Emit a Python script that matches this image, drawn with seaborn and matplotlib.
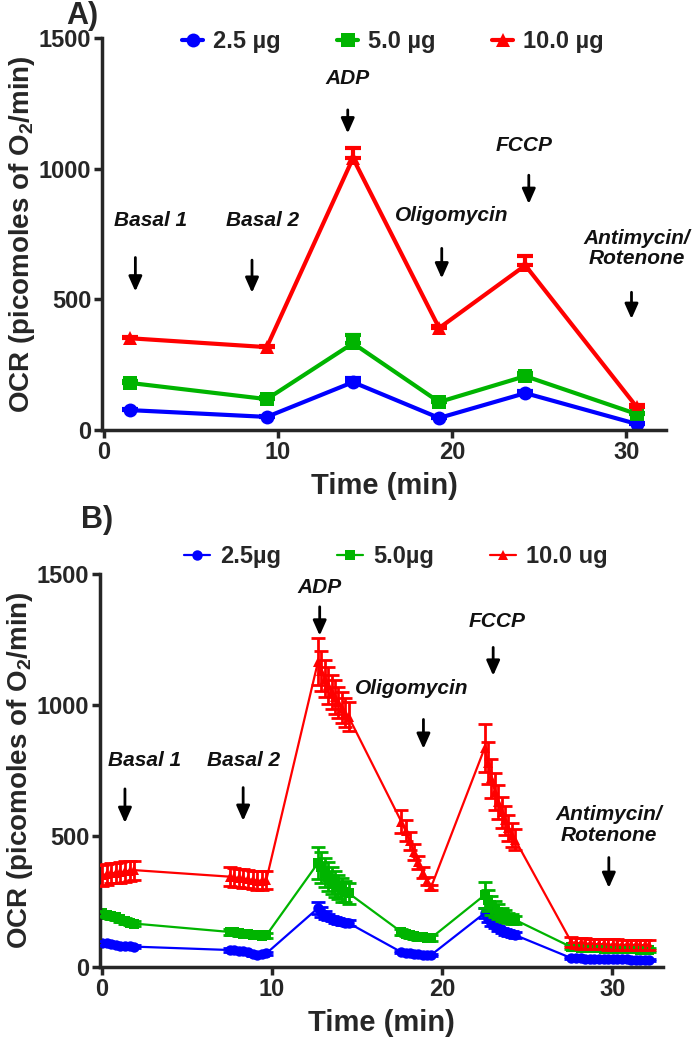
import numpy as np
import pandas as pd
import matplotlib
matplotlib.use('Agg')
import matplotlib.pyplot as plt
import seaborn as sns

# ---- panel A : one mean value per injection step ----
doses_a = ['2.5 µg', '5.0 µg', '10.0 µg']
time_a = [1.5, 9.35, 14.3, 19.25, 24.2, 30.6]
ocr_a_25 = [76, 50, 183, 46, 141, 23]
err_a_25 = [6, 5, 14, 5, 10, 3]
ocr_a_50 = [180, 118, 332, 107, 206, 61]
err_a_50 = [8, 8, 30, 8, 12, 5]
ocr_a_100 = [351, 317, 1040, 390, 630, 88]
err_a_100 = [6, 6, 40, 8, 35, 6]

# ---- panel B : every measurement ----
doses_b = ['2.5µg', '5.0µg', '10.0 ug']
time_b = [0.0, 0.27, 0.54, 0.81, 1.08, 1.35, 1.62, 1.89,
          7.5, 7.77, 8.04, 8.31, 8.58, 8.85, 9.12, 9.39, 9.66,
          12.7, 12.9, 13.1, 13.3, 13.5, 13.7, 13.9, 14.1, 14.3, 14.5,
          17.6, 17.85, 18.1, 18.35, 18.6, 18.85, 19.1, 19.35,
          22.5, 22.7, 22.9, 23.1, 23.3, 23.5, 23.7, 23.9, 24.1, 24.3,
          27.6, 27.87, 28.14, 28.41, 28.68, 28.95, 29.22, 29.49, 29.76,
          30.03, 30.3, 30.57, 30.84, 31.11, 31.38, 31.65, 31.92, 32.19]
ocr_b_25 = [92, 90, 88, 85, 82, 80, 79, 78,
            65, 64, 62, 60, 56, 50, 47, 48, 52,
            225, 210, 200, 192, 185, 180, 176, 172, 170, 168,
            57, 54, 52, 50, 48, 47, 46, 46,
            206, 185, 170, 158, 148, 140, 134, 130, 126, 122,
            34, 33, 33, 32, 32, 31, 31, 30, 30, 30, 29, 29, 29, 28, 28, 28, 27, 27]
err_b_25 = [8, 8, 8, 8, 7, 7, 7, 7,
            6, 6, 6, 6, 6, 6, 6, 6, 6,
            22, 18, 15, 12, 10, 10, 10, 10, 10, 10,
            5, 5, 5, 5, 5, 5, 5, 5,
            18, 14, 12, 10, 10, 10, 10, 10, 10, 10,
            4, 4, 4, 4, 4, 4, 4, 4, 4, 4, 4, 4, 4, 4, 4, 4, 4, 4]
ocr_b_50 = [205, 200, 195, 190, 182, 176, 170, 166,
            134, 132, 130, 128, 126, 124, 122, 120, 121,
            397, 380, 360, 345, 330, 318, 305, 295, 288, 282,
            134, 128, 122, 118, 115, 113, 112, 111,
            275, 255, 235, 222, 212, 202, 195, 188, 184, 180,
            76, 75, 74, 73, 72, 71, 71, 70, 70, 69, 69, 68, 68, 67, 67, 66, 66, 65]
err_b_50 = [10, 10, 10, 10, 10, 10, 10, 10,
            10, 10, 10, 10, 10, 10, 10, 10, 10,
            60, 60, 55, 55, 50, 50, 45, 45, 40, 40,
            10, 10, 10, 10, 10, 10, 10, 10,
            50, 40, 35, 30, 28, 25, 22, 20, 18, 15,
            8, 8, 8, 8, 8, 8, 8, 8, 8, 8, 8, 8, 8, 8, 8, 8, 8, 8]
ocr_b_100 = [350, 355, 358, 360, 362, 365, 368, 370,
             345, 342, 340, 338, 335, 333, 330, 330, 332,
             1165, 1130, 1100, 1075, 1050, 1030, 1010, 990, 970, 955,
             555, 520, 480, 440, 400, 360, 330, 305,
             836, 780, 720, 670, 630, 590, 560, 530, 505, 485,
             95, 92, 90, 90, 88, 88, 87, 87, 86, 86, 86, 85, 85, 85, 85, 84, 84, 84]
err_b_100 = [40, 40, 38, 38, 40, 40, 38, 36,
             35, 35, 35, 35, 35, 35, 35, 35, 35,
             90, 75, 70, 70, 65, 65, 60, 60, 55, 55,
             45, 40, 35, 30, 25, 20, 15, 10,
             90, 80, 75, 70, 65, 60, 55, 50, 45, 40,
             20, 20, 20, 20, 20, 20, 20, 20, 20, 20, 20, 20, 20, 20, 20, 20, 20, 20]

# injection labels: (text, text x, text y, arrow x, arrow top, arrow tip)
steps_a = [('Basal 1', 2.7, 800, 1.8, 660, 530),
           ('Basal 2', 9.1, 800, 8.5, 650, 525),
           ('ADP', 14.0, 1345, 14.0, 1225, 1135),
           ('Oligomycin', 20.0, 820, 19.4, 695, 580),
           ('FCCP', 24.1, 1090, 24.4, 975, 865),
           ('Antimycin/\nRotenone', 30.6, 695, 30.3, 527, 425)]
steps_b = [('Basal 1', 2.5, 790, 1.35, 680, 550),
           ('Basal 2', 8.3, 790, 8.3, 685, 558),
           ('ADP', 12.8, 1447, 12.8, 1375, 1265),
           ('Oligomycin', 18.2, 1065, 18.9, 945, 833),
           ('FCCP', 23.2, 1317, 23.0, 1220, 1112),
           ('Antimycin/\nRotenone', 29.8, 542, 29.8, 418, 302)]

colors = ['#0000ff', '#00b400', '#ff0000']
marks = ['o', 's', '^']

sns.set_theme(style='ticks')
plt.rcParams['font.family'] = ['Liberation Sans', 'DejaVu Sans']
plt.rcParams['font.weight'] = 'bold'
plt.rcParams['mathtext.fontset'] = 'custom'
plt.rcParams['mathtext.rm'] = 'Liberation Sans:bold'
plt.rcParams['mathtext.it'] = 'Liberation Sans:bold'
plt.rcParams['mathtext.bf'] = 'Liberation Sans:bold'


def make_frame(t, series, errs, names):
    parts = []
    for y, e, n in zip(series, errs, names):
        parts.append(pd.DataFrame({'time': t, 'ocr': y, 'err': e, 'dose': n}))
    return pd.concat(parts, ignore_index=True)


df_a = make_frame(time_a, [ocr_a_25, ocr_a_50, ocr_a_100],
                  [err_a_25, err_a_50, err_a_100], doses_a)
df_b = make_frame(time_b, [ocr_b_25, ocr_b_50, ocr_b_100],
                  [err_b_25, err_b_50, err_b_100], doses_b)

fig = plt.figure(figsize=(6.94, 10.5), dpi=100)
ax_a = fig.add_axes([0.1474, 0.5905, 0.8127, 0.3733])
ax_b = fig.add_axes([0.1445, 0.0790, 0.8112, 0.3743])


def draw_panel(ax, df, names, steps, lw, ms, elw, cap, one_sided, xmax, leg_x, leg_y, hl):
    sns.lineplot(data=df, x='time', y='ocr', hue='dose', style='dose',
                 hue_order=names, style_order=names, palette=colors,
                 markers=marks, dashes=False, errorbar=None, linewidth=lw,
                 markersize=ms, markeredgewidth=0, ax=ax)
    for n, c in zip(names, colors):
        sub = df[df['dose'] == n]
        if one_sided:
            yerr = [np.zeros(len(sub)), sub['err'].values]
        else:
            yerr = sub['err'].values
        ax.errorbar(sub['time'], sub['ocr'], yerr=yerr, fmt='none',
                    ecolor=c, elinewidth=elw, capsize=cap, capthick=elw, zorder=3)
    for txt, tx, ty, axx, y0, y1 in steps:
        ax.text(tx, ty, txt, ha='center', va='center', fontsize=15,
                fontstyle='italic', fontweight='bold', color='#111111',
                linespacing=1.1)
        ax.annotate('', xy=(axx, y1), xytext=(axx, y0),
                    arrowprops=dict(arrowstyle='-|>,head_length=0.45,head_width=0.2',
                                    color='black', lw=2, mutation_scale=20,
                                    shrinkA=0, shrinkB=0))
    ax.set_xlim(-0.1, xmax)
    ax.set_ylim(0, 1500)
    ax.set_xticks([0, 10, 20, 30])
    ax.set_yticks([0, 500, 1000, 1500])
    ax.set_xlabel('Time (min)', fontsize=21, fontweight='bold', labelpad=6)
    ax.set_ylabel('OCR (picomoles of O$_2$/min)', fontsize=20, fontweight='bold', labelpad=1)
    ax.tick_params(width=2.5, length=6, labelsize=17, pad=2)
    for lbl in ax.get_xticklabels() + ax.get_yticklabels():
        lbl.set_fontweight('bold')
    sns.despine(ax=ax)
    for s in ['left', 'bottom']:
        ax.spines[s].set_linewidth(2.5)
    handles, labels = ax.get_legend_handles_labels()
    ax.legend(handles, labels, loc='center', bbox_to_anchor=(leg_x, leg_y), ncol=3,
              frameon=False, fontsize=17, handlelength=hl, handletextpad=0.4,
              columnspacing=2.4)


draw_panel(ax_a, df_a, doses_a, steps_a, 3, 10, 3, 6, True, 32.3, 0.515, 0.99, 0.9)
draw_panel(ax_b, df_b, doses_b, steps_b, 1.6, 7.5, 2, 5, False, 33.0, 0.525, 1.045, 1.1)

fig.text(0.118, 0.985, 'A)', fontsize=22, fontweight='bold', ha='center', va='center')
fig.text(0.14, 0.505, 'B)', fontsize=22, fontweight='bold', ha='center', va='center')

fig.savefig('out.png', dpi=100)
